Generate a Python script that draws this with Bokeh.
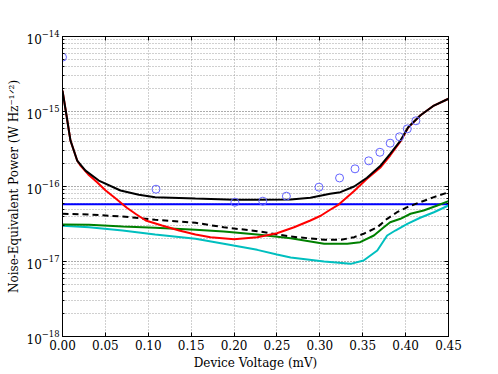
from bokeh.plotting import figure
from bokeh.models import LogAxis, LinearAxis, CustomJSTickFormatter, FixedTicker, Range1d
from bokeh.embed import file_html
from bokeh.resources import INLINE

# ---- data (Device Voltage in mV, NEP in W Hz^-1/2) ----
black_v = [0.000, 0.0043, 0.0093, 0.0171, 0.0268, 0.0423, 0.0676, 0.089, 0.108, 0.155,
           0.200, 0.227, 0.266, 0.289, 0.312, 0.324, 0.340, 0.355, 0.371, 0.382, 0.394, 0.403, 0.417, 0.433, 0.450]
black_nep = [1.9e-15, 9.4e-16, 4.1e-16, 2.22e-16, 1.63e-16, 1.2e-16, 8.85e-17, 7.74e-17,
             7.21e-17, 6.92e-17, 6.68e-17, 6.64e-17, 6.73e-17, 7.08e-17, 8.0e-17, 8.4e-17, 1.0e-16, 1.31e-16,
             1.91e-16, 2.73e-16, 4.10e-16, 6.18e-16, 8.85e-16, 1.20e-15, 1.48e-15]

red_v = [0.000, 0.0043, 0.0093, 0.0171, 0.021, 0.030, 0.040, 0.050, 0.062, 0.075, 0.085, 0.097, 0.116, 0.136,
         0.155, 0.1725, 0.200, 0.227, 0.250, 0.270, 0.289, 0.301, 0.312, 0.322, 0.340, 0.355, 0.371, 0.382,
         0.394, 0.403, 0.417, 0.433, 0.450]
red_nep = [1.9e-15, 9.4e-16, 4.1e-16, 2.22e-16, 1.9e-16, 1.45e-16, 1.15e-16, 8.9e-17, 6.9e-17, 5.2e-17,
           4.33e-17, 3.52e-17, 3.02e-17, 2.59e-17, 2.29e-17, 2.11e-17, 1.98e-17, 2.11e-17, 2.38e-17, 2.86e-17,
           3.52e-17, 4.07e-17, 4.90e-17, 5.75e-17, 8.71e-17, 1.27e-16, 1.81e-16, 2.59e-16, 3.98e-16, 6.10e-16,
           8.85e-16, 1.20e-15, 1.48e-15]

dashed_v = [0.000, 0.031, 0.070, 0.108, 0.155, 0.188, 0.227, 0.266, 0.305, 0.325, 0.340, 0.351, 0.367,
            0.3785, 0.390, 0.402, 0.417, 0.433, 0.450]
dashed_nep = [4.33e-17, 4.24e-17, 3.98e-17, 3.60e-17, 3.28e-17, 2.86e-17, 2.54e-17, 2.15e-17, 1.95e-17, 1.95e-17,
              2.11e-17, 2.34e-17, 2.86e-17, 3.71e-17, 4.54e-17, 5.30e-17, 6.18e-17, 7.21e-17, 8.39e-17]

green_v = [0.000, 0.031, 0.070, 0.108, 0.155, 0.188, 0.227, 0.266, 0.305, 0.332, 0.347, 0.363, 0.3746,
           0.382, 0.394, 0.4057, 0.421, 0.437, 0.450]
green_nep = [3.11e-17, 3.08e-17, 2.93e-17, 2.81e-17, 2.65e-17, 2.51e-17, 2.29e-17, 2.04e-17, 1.72e-17, 1.72e-17,
             1.81e-17, 2.22e-17, 2.86e-17, 3.34e-17, 3.71e-17, 4.33e-17, 4.79e-17, 5.58e-17, 6.37e-17]

cyan_v = [0.000, 0.031, 0.070, 0.108, 0.155, 0.188, 0.227, 0.250, 0.266, 0.305, 0.336, 0.351, 0.367, 0.3785,
          0.388, 0.402, 0.417, 0.433, 0.450]
cyan_nep = [2.99e-17, 2.87e-17, 2.59e-17, 2.29e-17, 2.01e-17, 1.72e-17, 1.43e-17, 1.24e-17, 1.13e-17, 1.0e-17,
            9.3e-18, 1.03e-17, 1.40e-17, 2.22e-17, 2.59e-17, 3.18e-17, 3.83e-17, 4.54e-17, 5.58e-17]

blue_level = 5.8e-17
blue_v = [0.0, 0.45]

circle_v = [0.000, 0.109, 0.201, 0.2335, 0.261, 0.299, 0.323, 0.341, 0.357, 0.370, 0.382, 0.393, 0.402, 0.412]
circle_nep = [5.3e-15, 9.2e-17, 6.17e-17, 6.37e-17, 7.43e-17, 9.8e-17, 1.30e-16, 1.72e-16, 2.20e-16, 2.86e-16,
              3.78e-16, 4.60e-16, 5.87e-16, 7.52e-16]

x_ticks = [0.00, 0.05, 0.10, 0.15, 0.20, 0.25, 0.30, 0.35, 0.40, 0.45]

FONT = "DejaVu Serif"

p = figure(y_axis_type="log",
           x_range=Range1d(0, 0.45), y_range=Range1d(1e-18, 1e-14),
           output_backend="svg", toolbar_location=None,
           min_border_left=62, min_border_right=48, min_border_top=36, min_border_bottom=36)
p.frame_width = 386
p.frame_height = 300

# grid
p.xgrid.ticker = FixedTicker(ticks=x_ticks)
p.xgrid.grid_line_color = "#a0a0a0"
p.xgrid.grid_line_dash = "1 2"
p.ygrid.grid_line_color = "#a0a0a0"
p.ygrid.grid_line_dash = "1 2"
p.ygrid.minor_grid_line_color = "#a0a0a0"
p.ygrid.minor_grid_line_dash = "1 2"

p.outline_line_color = "black"
p.outline_line_width = 1
p.outline_line_alpha = 1

# data
p.line(blue_v, [blue_level, blue_level], line_color="#0000ff", line_width=2)
p.line(cyan_v, cyan_nep, line_color="#00bfbf", line_width=2)
p.line(green_v, green_nep, line_color="#008000", line_width=2)
p.line(dashed_v, dashed_nep, line_color="black", line_width=2, line_dash="6 4")
p.line(red_v, red_nep, line_color="#ff0000", line_width=2)
p.line(black_v, black_nep, line_color="black", line_width=2)
p.scatter(circle_v, circle_nep, marker="circle", size=8, fill_color=None,
          line_color="#6464ff", line_width=1)

# axes
xa = p.xaxis[0]
xa.ticker = FixedTicker(ticks=x_ticks)
xa.formatter = CustomJSTickFormatter(code="return tick.toFixed(2);")
xa.axis_label = "Device Voltage (mV)"
ya = p.yaxis[0]
ya.axis_label = "Noise-Equivalent Power (W Hz⁻¹ᐟ²)"
for ax in (xa, ya):
    ax.major_label_text_font = FONT
    ax.major_label_text_font_size = "12px"
    ax.major_label_text_color = "black"
    ax.axis_label_text_font = FONT
    ax.axis_label_text_font_size = "12px"
    ax.axis_label_text_font_style = "normal"
    ax.axis_label_text_color = "black"
    ax.major_tick_in = 4
    ax.major_tick_out = 0
    ax.minor_tick_in = 2
    ax.minor_tick_out = 0
    ax.major_label_standoff = 3
    ax.axis_label_standoff = 3
    ax.axis_line_color = "black"
    ax.major_tick_line_color = "black"
xa.minor_tick_line_color = None

blank = CustomJSTickFormatter(code="return '';")
ra = LogAxis(ticker=ya.ticker, formatter=blank, major_tick_in=4, major_tick_out=0,
             minor_tick_in=2, minor_tick_out=0, major_label_text_font_size="1px")
ta = LinearAxis(ticker=FixedTicker(ticks=x_ticks), formatter=blank, major_tick_in=4, major_tick_out=0,
                minor_tick_line_color=None, major_label_text_font_size="1px")
p.add_layout(ra, "right")
p.add_layout(ta, "above")

open("out.html", "w").write(file_html(p, INLINE))
